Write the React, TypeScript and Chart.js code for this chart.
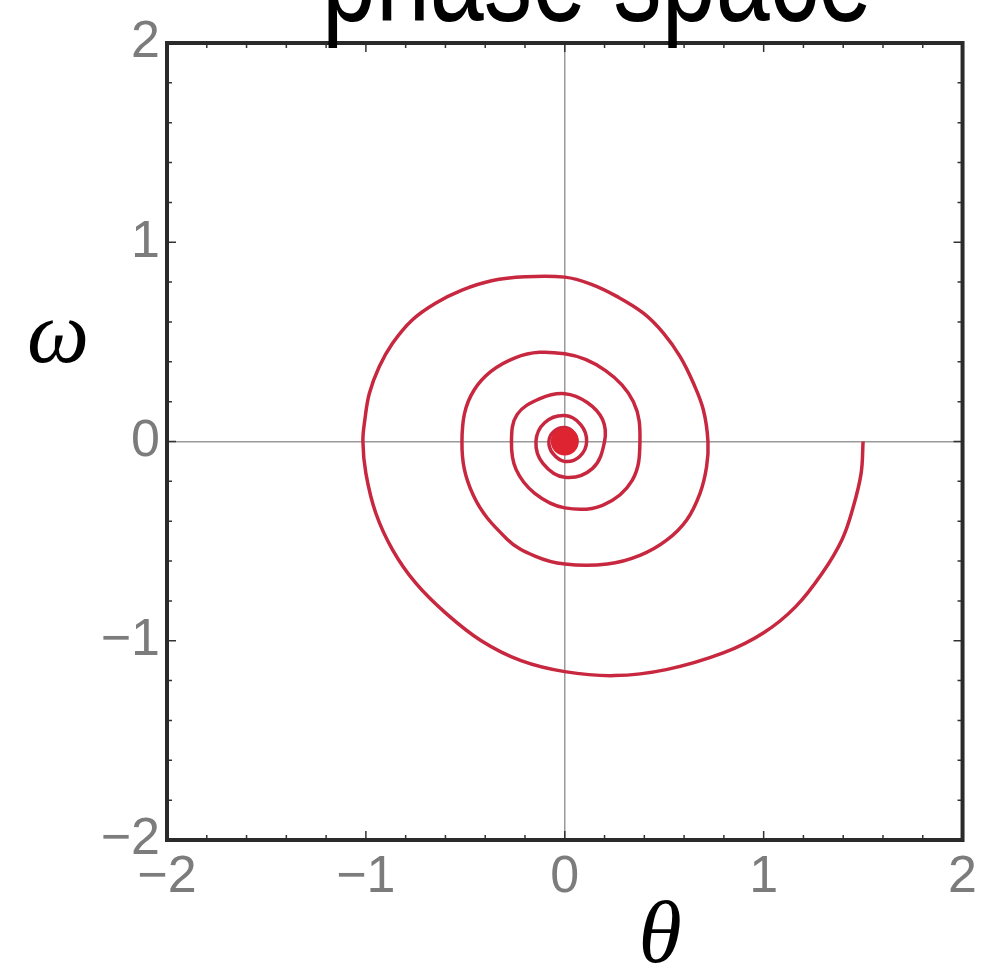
import React, { useEffect, useRef } from "react";
import { Chart, registerables } from "chart.js";

Chart.register(...registerables);

// Damped pendulum trajectory in the (θ, ω) plane, starting at θ = 1.5, ω = 0
// and winding clockwise into the origin. One row per turn.
const theta = [
  1.5, 1.49, 1.45, 1.395, 1.295, 1.16, 1.0, 0.8, 0.51, 0.25, 0.0,
  -0.22, -0.42, -0.6, -0.75, -0.865, -0.95, -1.0, -1.015,
  -1.005, -0.983, -0.933, -0.866, -0.767, -0.65, -0.517, -0.368, -0.2, 0.0,
  0.131, 0.264, 0.397, 0.497, 0.58, 0.647, 0.697, 0.72,
  0.713, 0.68, 0.613, 0.514, 0.381, 0.214, 0.0,
  -0.15, -0.29, -0.46, -0.517, -0.455, -0.25, 0.0, 0.205, 0.345,
  0.378, 0.339, 0.19, 0.0, -0.151, -0.245, -0.268, -0.24, -0.125, 0.0, 0.113, 0.19,
  0.2, 0.14, 0.0, -0.11, -0.145, -0.1, 0.0, 0.08,
  0.11, 0.075, 0.0, -0.06, -0.08, -0.055, 0.0, 0.045,
  0.06, 0.04, 0.0, -0.035, -0.045, -0.03, 0.0, 0.024,
  0.033, 0.022, 0.0, -0.019, -0.025, -0.016, 0.0, 0.013,
  0.018, 0.01, 0.0, -0.01, -0.012, 0.0, 0.005, 0.0,
];
const omega = [
  0.0, -0.16, -0.33, -0.49, -0.66, -0.83, -0.96, -1.06, -1.145, -1.175, -1.155,
  -1.1, -1.0, -0.86, -0.71, -0.545, -0.36, -0.16, 0.0,
  0.11, 0.24, 0.375, 0.493, 0.61, 0.694, 0.76, 0.807, 0.827, 0.825,
  0.79, 0.727, 0.643, 0.543, 0.426, 0.292, 0.158, 0.0,
  -0.127, -0.26, -0.394, -0.494, -0.57, -0.615, -0.615,
  -0.575, -0.49, -0.27, 0.0, 0.26, 0.42, 0.44, 0.356, 0.2,
  0.0, -0.195, -0.32, -0.333, -0.26, -0.14, 0.0, 0.135, 0.215, 0.24, 0.196, 0.11,
  0.0, -0.135, -0.18, -0.11, 0.0, 0.095, 0.13, 0.085,
  0.0, -0.075, -0.1, -0.06, 0.0, 0.05, 0.07, 0.045,
  0.0, -0.04, -0.055, -0.033, 0.0, 0.028, 0.038, 0.024,
  0.0, -0.022, -0.03, -0.018, 0.0, 0.015, 0.02, 0.013,
  0.0, -0.012, -0.015, -0.008, 0.0, 0.008, 0.0, 0.0,
];

const axisMin = -2;
const axisMax = 2;
const majorTicks = [-2, -1, 0, 1, 2];
const minorStep = 0.2;

const titleText = "phase space";
const xAxisLabel = "θ";
const yAxisLabel = "ω";

const fmt = (v: number) => (v < 0 ? "\u2212" + Math.abs(v) : String(v));

const framePlugin = {
  id: "frameAndLabels",
  afterDatasetsDraw(chart: any) {
    const { ctx, chartArea: a, scales } = chart;
    const xs = scales.x;
    const ys = scales.y;
    ctx.save();
    ctx.strokeStyle = "#333";
    ctx.lineWidth = 1.5;
    const n = Math.round((axisMax - axisMin) / minorStep);
    for (let i = 0; i <= n; i++) {
      const v = axisMin + i * minorStep;
      const major = majorTicks.some((m) => Math.abs(m - v) < 1e-6);
      const len = major ? 9 : 5;
      const px = xs.getPixelForValue(v);
      const py = ys.getPixelForValue(v);
      ctx.beginPath();
      ctx.moveTo(px, a.bottom);
      ctx.lineTo(px, a.bottom - len);
      ctx.moveTo(px, a.top);
      ctx.lineTo(px, a.top + len);
      ctx.moveTo(a.left, py);
      ctx.lineTo(a.left + len, py);
      ctx.moveTo(a.right, py);
      ctx.lineTo(a.right - len, py);
      ctx.stroke();
    }
    ctx.strokeStyle = "#2a2a2a";
    ctx.lineWidth = 4;
    ctx.strokeRect(a.left, a.top, a.right - a.left, a.bottom - a.top);
    ctx.restore();
  },
  afterDraw(chart: any) {
    const { ctx } = chart;
    ctx.save();
    ctx.fillStyle = "#000";
    ctx.textAlign = "center";
    ctx.textBaseline = "alphabetic";
    ctx.save();
    ctx.translate(597, 21);
    ctx.scale(1, 1.35);
    ctx.font = '97px "Liberation Sans", Arial, sans-serif';
    ctx.fillText(titleText, 0, 0);
    ctx.restore();
    ctx.font = 'italic 88px "Liberation Serif", "Times New Roman", serif';
    ctx.fillText(yAxisLabel, 58, 362);
    ctx.fillText(xAxisLabel, 660, 962);
    ctx.restore();
  },
};

export default function App() {
  const ref = useRef<HTMLCanvasElement | null>(null);

  useEffect(() => {
    document.body.style.margin = "0";
    const canvas = ref.current;
    if (!canvas) return;
    const points = theta.map((t, i) => ({ x: t, y: omega[i] }));
    const last = points.length - 1;
    const tickFont = { family: '"Liberation Sans", Arial, sans-serif', size: 52 };
    const zeroGrid = (c: any) => (c.tick && c.tick.value === 0 ? "#9a9a9a" : "rgba(0,0,0,0)");

    const chart = new Chart(canvas, {
      type: "scatter",
      data: {
        datasets: [
          {
            data: points,
            showLine: true,
            borderColor: "#c8283f",
            borderWidth: 3.5,
            tension: 0.38,
            fill: false,
            // the trajectory settles onto the equilibrium, drawn as a filled dot
            pointRadius: (c: any) => (c.dataIndex === last ? 14 : 0),
            pointBackgroundColor: "#dd2430",
            pointBorderWidth: 0,
          },
        ],
      },
      options: {
        responsive: false,
        devicePixelRatio: 1,
        animation: false,
        layout: { padding: { top: 43, right: 15, bottom: 0, left: 0 } },
        plugins: {
          legend: { display: false },
          tooltip: { enabled: false },
          title: { display: false },
        },
        scales: {
          x: {
            type: "linear",
            min: axisMin,
            max: axisMax,
            afterBuildTicks: (s: any) => {
              s.ticks = majorTicks.map((v) => ({ value: v }));
            },
            afterFit: (s: any) => {
              s.height = 130;
            },
            ticks: {
              color: "#7c7c7c",
              font: tickFont,
              padding: 6,
              maxRotation: 0,
              autoSkip: false,
              callback: (v: any) => fmt(Number(v)),
            },
            grid: { color: zeroGrid, lineWidth: 1.5, drawTicks: false },
            border: { display: false },
          },
          y: {
            type: "linear",
            min: axisMin,
            max: axisMax,
            afterBuildTicks: (s: any) => {
              s.ticks = majorTicks.map((v) => ({ value: v }));
            },
            afterFit: (s: any) => {
              s.width = 167;
            },
            ticks: {
              color: "#7c7c7c",
              font: tickFont,
              padding: 7,
              autoSkip: false,
              callback: (v: any) => fmt(Number(v)),
            },
            grid: { color: zeroGrid, lineWidth: 1.5, drawTicks: false },
            border: { display: false },
          },
        },
      },
      plugins: [framePlugin],
    });
    return () => chart.destroy();
  }, []);

  return (
    <canvas
      ref={ref}
      width={983}
      height={970}
      style={{ display: "block", width: 983, height: 970 }}
    />
  );
}
